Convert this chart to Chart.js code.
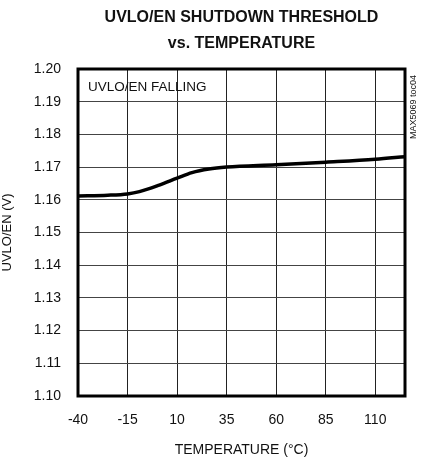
<!DOCTYPE html>
<html>
<head>
<meta charset="utf-8">
<script src="https://cdn.jsdelivr.net/npm/chart.js@4/dist/chart.umd.min.js"></script>
<style>
  html, body { margin: 0; padding: 0; background: #fff; }
  #wrap { width: 421px; height: 459px; }
</style>
</head>
<body>
<div id="wrap"><canvas id="c" width="421" height="459"></canvas></div>
<script>
// temperature (C) and threshold (V)
const temps = [-40, -25, -15, -9, 1, 10, 17.5, 26, 35, 60, 85, 110, 125];
const threshold = [1.1612, 1.1614, 1.1618, 1.1625, 1.1645, 1.1666, 1.1683, 1.1694, 1.1700, 1.1707, 1.1715, 1.1724, 1.1732];

const xTicks = [-40, -15, 10, 35, 60, 85, 110];
const yTicks = [1.10, 1.11, 1.12, 1.13, 1.14, 1.15, 1.16, 1.17, 1.18, 1.19, 1.20];

const titleLines = ['UVLO/EN SHUTDOWN THRESHOLD', 'vs. TEMPERATURE'];
const noteText = 'UVLO/EN FALLING';
const sideText = 'MAX5069 toc04';

const FONT = '"Liberation Sans", Arial, sans-serif';

// title, in-plot note, frame and the little side code
const extras = {
  id: 'extras',
  afterDraw(chart) {
    const ctx = chart.ctx;
    const a = chart.chartArea;
    const cx = (a.left + a.right) / 2;
    ctx.save();
    // thick frame
    ctx.strokeStyle = '#000';
    ctx.lineWidth = 3;
    ctx.strokeRect(a.left, a.top, a.right - a.left, a.bottom - a.top);

    ctx.fillStyle = '#111';
    ctx.textAlign = 'center';
    ctx.textBaseline = 'middle';
    ctx.font = 'bold 16px ' + FONT;
    ctx.fillText(titleLines[0], cx, 18);
    ctx.fillText(titleLines[1], cx, 44);

    ctx.textAlign = 'left';
    ctx.font = '13.5px ' + FONT;
    ctx.fillText(noteText, a.left + 10, a.top + 18);

    ctx.translate(414, a.top + 38);
    ctx.rotate(-Math.PI / 2);
    ctx.textAlign = 'center';
    ctx.font = '9px ' + FONT;
    ctx.fillText(sideText, 0, 0);
    ctx.restore();
  }
};

new Chart(document.getElementById('c'), {
  type: 'line',
  data: {
    datasets: [{
      data: temps.map((t, i) => ({x: t, y: threshold[i]})),
      borderColor: '#000',
      borderWidth: 3.5,
      pointRadius: 0,
      cubicInterpolationMode: 'monotone',
      fill: false
    }]
  },
  options: {
    responsive: false,
    animation: false,
    layout: { padding: { top: 69, right: 16, left: 0, bottom: 0 } },
    plugins: { legend: { display: false }, tooltip: { enabled: false } },
    scales: {
      x: {
        type: 'linear',
        min: -40,
        max: 125,
        afterBuildTicks: (s) => { s.ticks = xTicks.map(v => ({value: v})); },
        afterFit: (s) => { s.height = 63; },
        grid: { color: '#222', lineWidth: 1, drawTicks: false },
        border: { display: false },
        ticks: {
          padding: 16,
          maxRotation: 0,
          color: '#111',
          font: { family: FONT, size: 14 },
          callback: (v) => String(v)
        },
        title: {
          display: true,
          text: 'TEMPERATURE (°C)',
          color: '#111',
          font: { family: FONT, size: 14 },
          padding: { top: 4, bottom: 0 }
        }
      },
      y: {
        min: 1.10,
        max: 1.20,
        afterBuildTicks: (s) => { s.ticks = yTicks.map(v => ({value: v})); },
        afterFit: (s) => { s.width = 78; },
        grid: { color: '#444', lineWidth: 1, drawTicks: false },
        border: { display: false },
        ticks: {
          padding: 17,
          color: '#111',
          font: { family: FONT, size: 14 },
          callback: (v) => v.toFixed(2)
        },
        title: {
          display: true,
          text: 'UVLO/EN (V)',
          color: '#111',
          font: { family: FONT, size: 13 },
          padding: { top: 0, bottom: 0 }
        }
      }
    }
  },
  plugins: [extras]
});
</script>
</body>
</html>
